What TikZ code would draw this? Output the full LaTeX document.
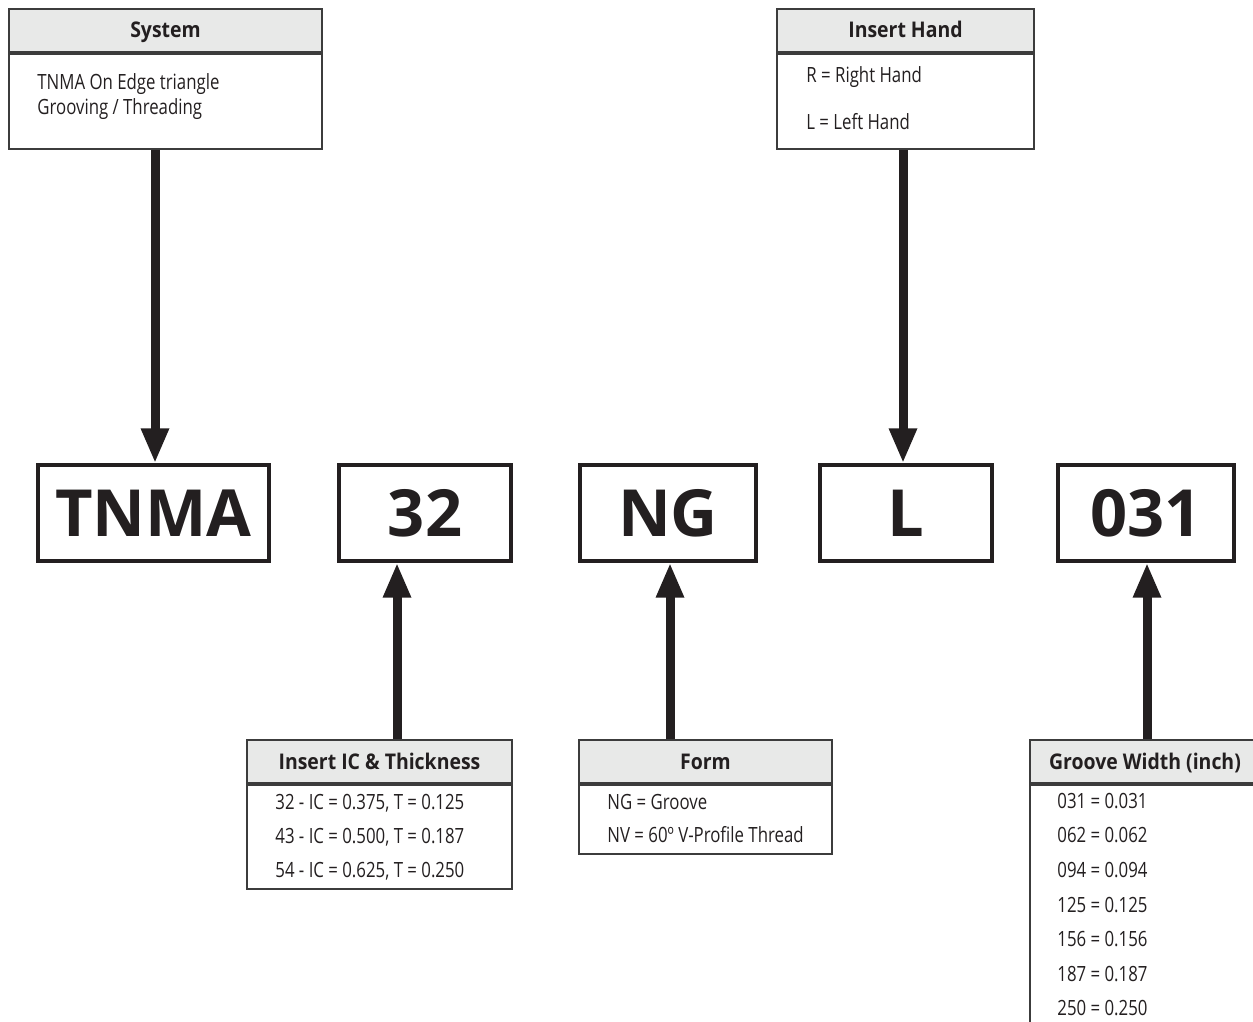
\documentclass[tikz,border=0pt]{standalone}
\usepackage{fontspec}
\setmainfont{Open Sans}
\newfontfamily\headfont[FakeStretch=0.9]{Open Sans}
\newfontfamily\rowfont[FakeStretch=0.8]{Open Sans}
\usetikzlibrary{arrows.meta}
\definecolor{ink}{HTML}{231F20}
\definecolor{headgray}{HTML}{E8E9E8}
\definecolor{rulegray}{HTML}{3C3C3C}

\begin{document}
\begin{tikzpicture}[x=0.5pt,y=-0.5pt,
  codebox/.style={draw=ink,line width=1.7pt,minimum height=48pt,inner sep=0pt,
    text=ink,font=\bfseries\fontsize{32.5}{33}\selectfont},
  headbox/.style={draw=rulegray,line width=1pt,fill=headgray,anchor=north west,
    minimum height=21.5pt,inner sep=0pt,text height=7.5pt,text depth=0pt,
    text=ink,font=\headfont\bfseries\fontsize{10.8}{12}\selectfont},
  bodybox/.style={draw=rulegray,line width=1pt,anchor=north west,inner sep=0pt},
  rowtext/.style={anchor=base west,inner sep=0pt,text=ink,
    font=\rowfont\fontsize{10.5}{12}\selectfont},
  feed/.style={draw=ink,line width=4.5pt,-{Triangle[width=13pt,length=17.5pt]}}]
\useasboundingbox (0,0) rectangle (1253,1022);
\clip (0,0) rectangle (1253,1022);

% code boxes
\node[codebox,minimum width=115.5pt] (tnma) at (153.5,513) {TNMA};
\node[codebox,minimum width=86pt] (ic) at (425,513) {32};
\node[codebox,minimum width=88pt] (form) at (668,513) {NG};
\node[codebox,minimum width=86pt] (hand) at (906,513) {L};
\node[codebox,minimum width=88pt] (width) at (1146,513) {031};

% system
\node[headbox,minimum width=156.5pt] (syshead) at (8,8) {System};
\node[bodybox,minimum width=156.5pt,minimum height=47.5pt] (sysbody) at (syshead.south west) {};
\node[rowtext] (sys1) at (37,90) {TNMA On Edge triangle};
\node[rowtext] (sys2) at (37,115) {Grooving / Threading};

% insert hand
\node[headbox,minimum width=128.5pt] (handhead) at (776,8) {Insert Hand};
\node[bodybox,minimum width=128.5pt,minimum height=47.5pt] (handbody) at (handhead.south west) {};
\node[rowtext] (hand1) at (806,83) {R = Right Hand};
\node[rowtext] (hand2) at (806,130) {L = Left Hand};

% insert IC and thickness
\node[headbox,minimum width=132.5pt] (ichead) at (246,739) {Insert IC \& Thickness};
\node[bodybox,minimum width=132.5pt,minimum height=52pt] (icbody) at (ichead.south west) {};
\node[rowtext] (ic1) at (275,809) {32 - IC = 0.375, T = 0.125};
\node[rowtext] (ic2) at (275,843) {43 - IC = 0.500, T = 0.187};
\node[rowtext] (ic3) at (275,877) {54 - IC = 0.625, T = 0.250};

% form
\node[headbox,minimum width=126.5pt] (formhead) at (578,739) {Form};
\node[bodybox,minimum width=126.5pt,minimum height=34.5pt] (formbody) at (formhead.south west) {};
\node[rowtext] (form1) at (607,809) {NG = Groove};
\node[rowtext] (form2) at (607,842) {NV = 60º V-Profile Thread};

% groove width, runs off the page
\node[headbox,minimum width=115pt] (widthhead) at (1029,739) {Groove Width (inch)};
\node[bodybox,minimum width=115pt,minimum height=130pt] (widthbody) at (widthhead.south west) {};
\node[rowtext] (w1) at (1057,808) {031 = 0.031};
\node[rowtext] (w2) at (1057,842) {062 = 0.062};
\node[rowtext] (w3) at (1057,877) {094 = 0.094};
\node[rowtext] (w4) at (1057,912) {125 = 0.125};
\node[rowtext] (w5) at (1057,946) {156 = 0.156};
\node[rowtext] (w6) at (1057,981) {187 = 0.187};
\node[rowtext] (w7) at (1057,1015) {250 = 0.250};

% arrows into the code
\coordinate (sysx) at (155,0);
\coordinate (handx) at (903,0);
\coordinate (icx) at (397,0);
\coordinate (formx) at (670,0);
\coordinate (widthx) at (1147,0);
\draw[feed] (sysx |- sysbody.south) -- (sysx |- tnma.north);
\draw[feed] (handx |- handbody.south) -- (handx |- hand.north);
\draw[feed] (icx |- ichead.north) -- (icx |- ic.south);
\draw[feed] (formx |- formhead.north) -- (formx |- form.south);
\draw[feed] (widthx |- widthhead.north) -- (widthx |- width.south);
\end{tikzpicture}
\end{document}
